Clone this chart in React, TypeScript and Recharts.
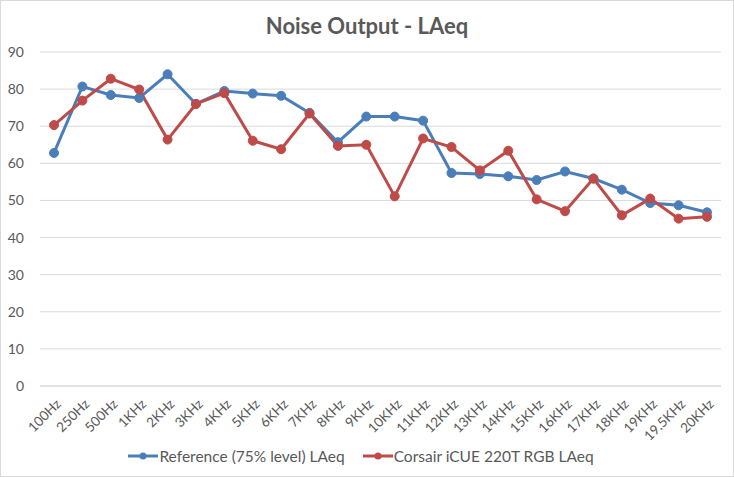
import React from "react";
import {
  LineChart,
  Line,
  XAxis,
  YAxis,
  CartesianGrid,
  Legend,
} from "recharts";

const frequencies = [
  "100Hz", "250Hz", "500Hz", "1KHz", "2KHz", "3KHz", "4KHz", "5KHz",
  "6KHz", "7KHz", "8KHz", "9KHz", "10KHz", "11KHz", "12KHz", "13KHz",
  "14KHz", "15KHz", "16KHz", "17KHz", "18KHz", "19KHz", "19.5KHz", "20KHz",
];

const referenceLAeq = [
  62.8, 80.7, 78.4, 77.6, 84.0, 76.0, 79.5, 78.8, 78.2, 73.6, 65.7, 72.6,
  72.6, 71.5, 57.4, 57.1, 56.5, 55.5, 57.8, 55.9, 52.9, 49.3, 48.7, 46.8,
];

const corsairLAeq = [
  70.3, 76.9, 82.8, 79.9, 66.4, 76.0, 78.9, 66.1, 63.8, 73.4, 64.7, 65.0,
  51.1, 66.7, 64.4, 58.1, 63.4, 50.3, 47.1, 55.9, 46.0, 50.5, 45.1, 45.6,
];

const yTicks = [0, 10, 20, 30, 40, 50, 60, 70, 80, 90];

const seriesNames = ["Reference (75% level) LAeq", "Corsair iCUE 220T RGB LAeq"];
const seriesColors = ["#4a7ebb", "#be4b48"];

const data = frequencies.map((f, i) => ({
  freq: f,
  reference: referenceLAeq[i],
  corsair: corsairLAeq[i],
}));

const FONT = "Lato, 'Open Sans', sans-serif";
const TEXT = "#595959";

function XTick(props: any) {
  const { x, y, payload } = props;
  return (
    <g transform={`translate(${x + 5},${y + 8})`}>
      <text
        textAnchor="end"
        fill={TEXT}
        fontSize={13.5}
        fontFamily={FONT}
        transform="rotate(-45)"
        dy={4}
      >
        {payload.value}
      </text>
    </g>
  );
}

function LegendContent() {
  return (
    <div
      style={{
        display: "flex",
        justifyContent: "center",
        gap: 18,
        fontFamily: FONT,
        fontSize: 15.5,
        color: TEXT,
        paddingTop: 6,
      }}
    >
      {seriesNames.map((name, i) => (
        <div key={name} style={{ display: "flex", alignItems: "center" }}>
          <svg width={30} height={10} style={{ marginRight: 1 }}>
            <line x1={0} y1={5} x2={30} y2={5} stroke={seriesColors[i]} strokeWidth={3} />
            <circle cx={15} cy={5} r={3.5} fill={seriesColors[i]} />
          </svg>
          <span>{name}</span>
        </div>
      ))}
    </div>
  );
}

export default function App() {
  return (
    <div
      style={{
        position: "fixed",
        left: 0,
        top: 0,
        width: 734,
        height: 477,
        background: "#fff",
        border: "1px solid #d9d9d9",
        boxSizing: "border-box",
      }}
    >
      <div
        style={{
          position: "absolute",
          top: 11,
          left: 0,
          width: "100%",
          textAlign: "center",
          fontFamily: FONT,
          fontWeight: 700,
          fontSize: 22,
          color: TEXT,
        }}
      >
        Noise Output - LAeq
      </div>
      <LineChart
        width={732}
        height={475}
        data={data}
        margin={{ top: 51, right: 12, left: 0, bottom: 5 }}
      >
        <CartesianGrid vertical={false} stroke="#d9d9d9" strokeWidth={1} />
        <XAxis
          dataKey="freq"
          interval={0}
          height={55}
          padding={{ left: 14, right: 14 }}
          tick={<XTick />}
          tickLine={false}
          axisLine={{ stroke: "#d9d9d9" }}
        />
        <YAxis
          domain={[0, 90]}
          ticks={yTicks}
          width={39}
          tickLine={false}
          axisLine={false}
          tick={{ fill: TEXT, fontSize: 14, fontFamily: FONT }}
          tickMargin={10}
        />
        <Legend verticalAlign="bottom" height={30} content={<LegendContent />} />
        <Line
          dataKey="reference"
          name={seriesNames[0]}
          stroke={seriesColors[0]}
          strokeWidth={3}
          dot={{ r: 4.5, fill: seriesColors[0], stroke: seriesColors[0], strokeWidth: 1 }}
          isAnimationActive={false}
        />
        <Line
          dataKey="corsair"
          name={seriesNames[1]}
          stroke={seriesColors[1]}
          strokeWidth={3}
          dot={{ r: 4.5, fill: seriesColors[1], stroke: seriesColors[1], strokeWidth: 1 }}
          isAnimationActive={false}
        />
      </LineChart>
    </div>
  );
}
